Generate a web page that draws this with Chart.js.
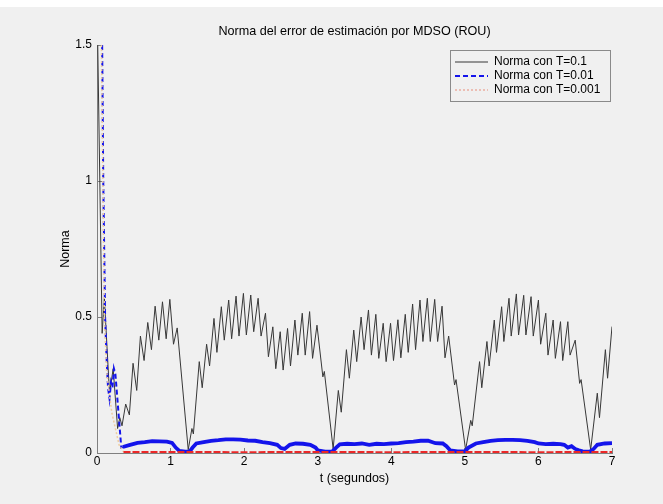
<!DOCTYPE html>
<html>
<head>
<meta charset="utf-8">
<title>Norma del error de estimación por MDSO (ROU)</title>
<script src="https://cdn.jsdelivr.net/npm/chart.js@4"></script>
<style>
  html, body { margin: 0; padding: 0; }
  body {
    width: 663px; height: 504px; overflow: hidden;
    background: linear-gradient(#ffffff 0, #ffffff 7px, #f0f0f0 7px, #f0f0f0 100%);
  }
  #wrap { position: absolute; left: 0; top: 0; width: 663px; height: 504px; }
</style>
</head>
<body>
<div id="wrap"><canvas id="chart" width="663" height="504"></canvas></div>
<script>
// Texts
const chartTitle = 'Norma del error de estimación por MDSO (ROU)';
const xTitle = 't (segundos)';
const yTitle = 'Norma';
const seriesNames = ['Norma con T=0.1', 'Norma con T=0.01', 'Norma con T=0.001'];

// Axis ticks
const xTicks = [0, 1, 2, 3, 4, 5, 6, 7];
const xTickLabels = ['0', '1', '2', '3', '4', '5', '6', '7'];
const yTicks = [0, 0.5, 1, 1.5];
const yTickLabels = ['0', '0.5', '1', '1.5'];

// Error norm, sampling period T = 0.1  ([t, norma])
const normT01 = [
  [0.01,1.50],[0.07,0.44],[0.10,0.57],[0.17,0.22],[0.22,0.31],[0.28,0.09],[0.31,0.13],[0.34,0.10],
  [0.39,0.18],[0.44,0.14],[0.49,0.33],[0.54,0.23],[0.59,0.43],[0.64,0.34],[0.69,0.48],[0.74,0.38],
  [0.79,0.54],[0.84,0.415],[0.89,0.556],[0.94,0.42],[0.99,0.565],[1.04,0.40],[1.09,0.46],[1.24,0.012],
  [1.29,0.09],[1.31,0.07],[1.39,0.336],[1.43,0.24],[1.49,0.40],[1.53,0.32],[1.59,0.495],[1.63,0.37],
  [1.69,0.538],[1.73,0.415],[1.79,0.5625],[1.83,0.42],[1.89,0.577],[1.93,0.43],[1.99,0.587],[2.03,0.434],
  [2.09,0.581],[2.13,0.446],[2.19,0.569],[2.23,0.43],[2.29,0.514],[2.33,0.354],[2.39,0.464],[2.43,0.31],
  [2.49,0.446],[2.53,0.305],[2.59,0.458],[2.63,0.32],[2.69,0.489],[2.73,0.36],[2.79,0.514],[2.83,0.36],
  [2.89,0.52],[2.93,0.348],[2.99,0.47],[3.07,0.28],[3.09,0.30],[3.21,0.015],
  [3.28,0.23],[3.32,0.15],[3.39,0.38],[3.43,0.275],[3.49,0.452],[3.53,0.336],[3.59,0.50],[3.63,0.38],
  [3.69,0.526],[3.73,0.36],[3.79,0.51],[3.83,0.348],[3.89,0.477],[3.93,0.336],[3.99,0.477],[4.03,0.34],
  [4.09,0.49],[4.13,0.35],[4.19,0.51],[4.23,0.37],[4.29,0.548],[4.33,0.38],[4.39,0.5625],[4.43,0.41],
  [4.49,0.569],[4.53,0.41],[4.59,0.565],[4.63,0.41],[4.69,0.54],[4.73,0.35],[4.78,0.43],[4.86,0.25],
  [4.88,0.27],[5.01,0.012],
  [5.08,0.12],[5.10,0.10],[5.20,0.336],[5.23,0.24],[5.30,0.41],[5.33,0.32],[5.40,0.489],[5.43,0.37],
  [5.50,0.538],[5.53,0.41],[5.60,0.569],[5.63,0.43],[5.70,0.585],[5.73,0.434],[5.80,0.58],[5.83,0.434],
  [5.90,0.575],[5.93,0.43],[6.00,0.5625],[6.03,0.40],[6.10,0.514],[6.13,0.36],[6.20,0.489],[6.23,0.348],
  [6.30,0.483],[6.33,0.34],[6.40,0.483],[6.43,0.36],[6.50,0.415],[6.56,0.256],[6.58,0.27],[6.71,0.012],
  [6.80,0.22],[6.83,0.13],[6.91,0.38],[6.94,0.275],[7.00,0.465]
];

// Error norm, sampling period T = 0.01
const normT001 = [
  [0.07,1.50],[0.085,1.00],[0.11,0.50],[0.13,0.35],[0.15,0.24],[0.17,0.20],[0.19,0.26],[0.21,0.24],
  [0.23,0.31],[0.25,0.29],[0.33,0.02],[0.35,0.022],[0.45,0.03],[0.55,0.037],[0.65,0.04],[0.75,0.044],
  [0.85,0.043],[0.95,0.042],[1.02,0.037],[1.07,0.02],[1.12,0.008],[1.20,0.005],[1.26,0.006],[1.30,0.02],
  [1.35,0.035],[1.45,0.04],[1.55,0.045],[1.65,0.047],[1.75,0.05],[1.85,0.05],[1.95,0.049],[2.05,0.046],
  [2.15,0.045],[2.25,0.04],[2.35,0.036],[2.45,0.03],[2.50,0.018],[2.55,0.015],[2.62,0.03],[2.70,0.035],
  [2.80,0.034],[2.90,0.03],[2.97,0.02],[3.00,0.01],[3.10,0.005],[3.20,0.006],[3.25,0.02],[3.30,0.032],
  [3.40,0.034],[3.50,0.033],[3.60,0.035],[3.70,0.03],[3.80,0.034],[3.90,0.033],[4.00,0.035],[4.10,0.036],
  [4.20,0.04],[4.30,0.042],[4.40,0.045],[4.50,0.045],[4.60,0.036],[4.70,0.035],[4.75,0.025],[4.80,0.01],
  [4.90,0.006],[5.00,0.006],[5.05,0.02],[5.15,0.035],[5.25,0.04],[5.35,0.045],[5.45,0.047],[5.55,0.048],
  [5.65,0.048],[5.75,0.047],[5.85,0.045],[5.95,0.04],[6.00,0.035],[6.10,0.033],[6.20,0.034],[6.30,0.033],
  [6.35,0.03],[6.40,0.02],[6.45,0.025],[6.50,0.015],[6.55,0.01],[6.60,0.006],[6.70,0.005],[6.75,0.015],
  [6.80,0.03],[6.90,0.035],[7.00,0.036]
];

// Error norm, sampling period T = 0.001
const normT0001 = [
  [0.06,1.50],[0.08,1.00],[0.10,0.50],[0.13,0.30],[0.20,0.15],[0.30,0.03],[0.36,0.004],[1.00,0.004],
  [2.00,0.003],[3.00,0.004],[4.00,0.003],[5.00,0.004],[6.00,0.003],[7.00,0.004]
];

const FONT = "'Liberation Sans', Arial, Helvetica, sans-serif";
const AXIS_GREY = '#808080';
const LEGEND_X = 453, LEGEND_Y = 54;
const LEGEND_BOX = { x: 450.5, y: 50.5, w: 160, h: 51 };
const TRANSIENT_END = 0.34;

const toPoints = arr => arr.map(([t, v]) => ({ x: t, y: v }));

// Places the legend inside the plot area (top right) and frames it.
const legendInset = {
  id: 'legendInset',
  afterLayout(chart) {
    const lg = chart.legend;
    if (!lg) return;
    const w = lg.width;
    lg.left = LEGEND_X;
    lg.right = LEGEND_X + w;
    lg.top = LEGEND_Y;
    lg.bottom = chart.chartArea.bottom;
  },
  afterDraw(chart) {
    const c = chart.ctx;
    c.save();
    c.strokeStyle = '#8a8a8a';
    c.lineWidth = 1;
    c.strokeRect(LEGEND_BOX.x, LEGEND_BOX.y, LEGEND_BOX.w, LEGEND_BOX.h);
    c.restore();
  }
};

Chart.defaults.font.family = FONT;
Chart.defaults.color = '#000';

const axisCommon = {
  type: 'linear',
  grid: { display: true, drawOnChartArea: false, drawTicks: true, tickLength: -5, color: AXIS_GREY, lineWidth: 1 },
  border: { display: true, color: AXIS_GREY, width: 1 }
};

new Chart(document.getElementById('chart'), {
  type: 'line',
  data: {
    datasets: [
      {
        label: seriesNames[0],
        data: toPoints(normT01),
        borderColor: 'rgb(55,55,55)',
        borderWidth: 1,
        pointRadius: 0,
        tension: 0,
        order: 2
      },
      {
        label: seriesNames[1],
        data: toPoints(normT001),
        borderColor: 'rgb(20,20,235)',
        borderWidth: 2,
        borderDash: [5, 3],
        pointRadius: 0,
        tension: 0,
        order: 1,
        segment: {
          borderDash: ctx => (ctx.p0.parsed.x >= TRANSIENT_END ? [] : undefined),
          borderWidth: ctx => (ctx.p0.parsed.x >= TRANSIENT_END ? 3.8 : undefined)
        }
      },
      {
        label: seriesNames[2],
        data: toPoints(normT0001),
        borderColor: 'rgb(235,40,40)',
        borderWidth: 2,
        borderDash: [7, 2],
        pointRadius: 0,
        tension: 0,
        order: 0,
        segment: {
          borderColor: ctx => (ctx.p0.parsed.x < TRANSIENT_END ? 'rgb(238,205,160)' : undefined),
          borderDash: ctx => (ctx.p0.parsed.x < TRANSIENT_END ? [2, 2] : undefined),
          borderWidth: ctx => (ctx.p0.parsed.x < TRANSIENT_END ? 1.5 : undefined)
        }
      }
    ]
  },
  options: {
    responsive: false,
    animation: false,
    events: [],
    layout: { padding: { left: 0, right: 51, top: 0, bottom: 0 } },
    plugins: {
      title: {
        display: true,
        fullSize: false,
        text: chartTitle,
        color: '#000',
        font: { family: FONT, size: 12.6, weight: 'normal' },
        padding: { top: 24, bottom: 6 }
      },
      legend: {
        position: 'chartArea',
        align: 'start',
        labels: {
          usePointStyle: true,
          pointStyle: 'line',
          pointStyleWidth: 33,
          padding: 2,
          color: '#000',
          font: { family: FONT, size: 12 },
          sort: (a, b) => a.datasetIndex - b.datasetIndex,
          generateLabels(chart) {
            const items = Chart.defaults.plugins.legend.labels.generateLabels(chart);
            items.forEach(it => {
              const ds = chart.data.datasets[it.datasetIndex];
              it.strokeStyle = ds.borderColor;
              it.lineWidth = ds.borderWidth;
              it.lineDash = ds.borderDash || [];
              if (it.datasetIndex === 2) { it.strokeStyle = 'rgb(236,190,180)'; it.lineDash = [2, 2]; it.lineWidth = 2; }
            });
            return items;
          }
        }
      },
      tooltip: { enabled: false }
    },
    scales: {
      x: {
        ...axisCommon,
        min: 0,
        max: 7,
        afterBuildTicks: s => { s.ticks = xTicks.map(v => ({ value: v })); },
        afterFit: s => { s.height = 51; },
        ticks: {
          padding: 6, maxRotation: 0, autoSkip: false, color: '#000',
          font: { family: FONT, size: 12 },
          callback: (v, i) => xTickLabels[i]
        },
        title: {
          display: true, text: xTitle, color: '#000',
          font: { family: FONT, size: 12.5 },
          padding: { top: 0, bottom: 18 }
        }
      },
      y: {
        ...axisCommon,
        min: 0,
        max: 1.5,
        afterBuildTicks: s => { s.ticks = yTicks.map(v => ({ value: v })); },
        afterFit: s => { s.width = 97; },
        ticks: {
          padding: 10, color: '#000',
          font: { family: FONT, size: 12 },
          callback: (v, i) => yTickLabels[i]
        },
        title: {
          display: true, text: yTitle, color: '#000',
          font: { family: FONT, size: 12.5 },
          padding: { top: 58, bottom: 0 }
        }
      }
    }
  },
  plugins: [legendInset]
});
</script>
</body>
</html>
